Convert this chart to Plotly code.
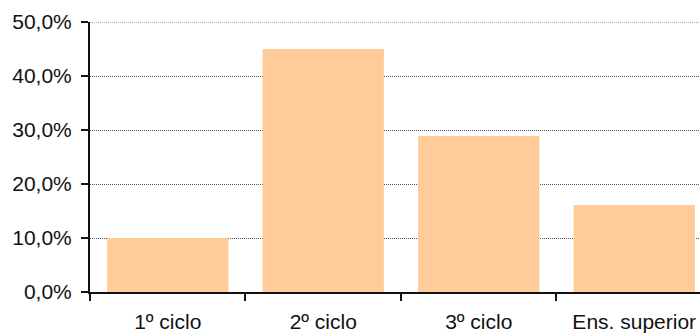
import plotly.graph_objects as go

# Distribution by education level
categories = ["1º ciclo", "2º ciclo", "3º ciclo", "Ens. superior"]
shares = [0.100, 0.450, 0.289, 0.161]
y_ticks = [0.0, 0.1, 0.2, 0.3, 0.4, 0.5]

grid_color = "#555555"
grid_dash = "1px,1px"

fig = go.Figure(
    go.Bar(
        x=categories,
        y=shares,
        marker=dict(color="#FFCC99", line=dict(width=0)),
        width=0.78,
    )
)

font = dict(family="Liberation Sans, Arial, sans-serif", size=21, color="#111111")

fig.update_layout(
    width=700,
    height=333,
    margin=dict(l=90, r=0, t=22, b=41),
    paper_bgcolor="white",
    plot_bgcolor="white",
    separators=",.",
    showlegend=False,
    font=font,
)

# gridline at the top of the value range (plotly skips grid at the axis edge)
fig.add_shape(
    type="line",
    xref="paper", x0=0, x1=1,
    yref="y", y0=y_ticks[-1], y1=y_ticks[-1],
    line=dict(color=grid_color, width=1, dash=grid_dash),
    layer="below",
)

fig.update_xaxes(
    type="category",
    range=[-0.5, 3.423],
    tickson="boundaries",
    ticks="outside",
    ticklen=7,
    tickwidth=2,
    tickcolor="#111111",
    ticklabelstandoff=10,
    showline=True,
    linecolor="#111111",
    linewidth=2,
    showgrid=False,
    tickfont=font,
)

fig.update_yaxes(
    range=[0, 0.5],
    tickvals=y_ticks,
    tickformat=".1%",
    ticks="outside",
    ticklen=7,
    tickwidth=2,
    tickcolor="#111111",
    ticklabelstandoff=5,
    showline=True,
    linecolor="#111111",
    linewidth=2,
    showgrid=True,
    gridcolor=grid_color,
    gridwidth=1,
    griddash=grid_dash,
    zeroline=False,
    tickfont=font,
)

fig.write_html("out.html")
